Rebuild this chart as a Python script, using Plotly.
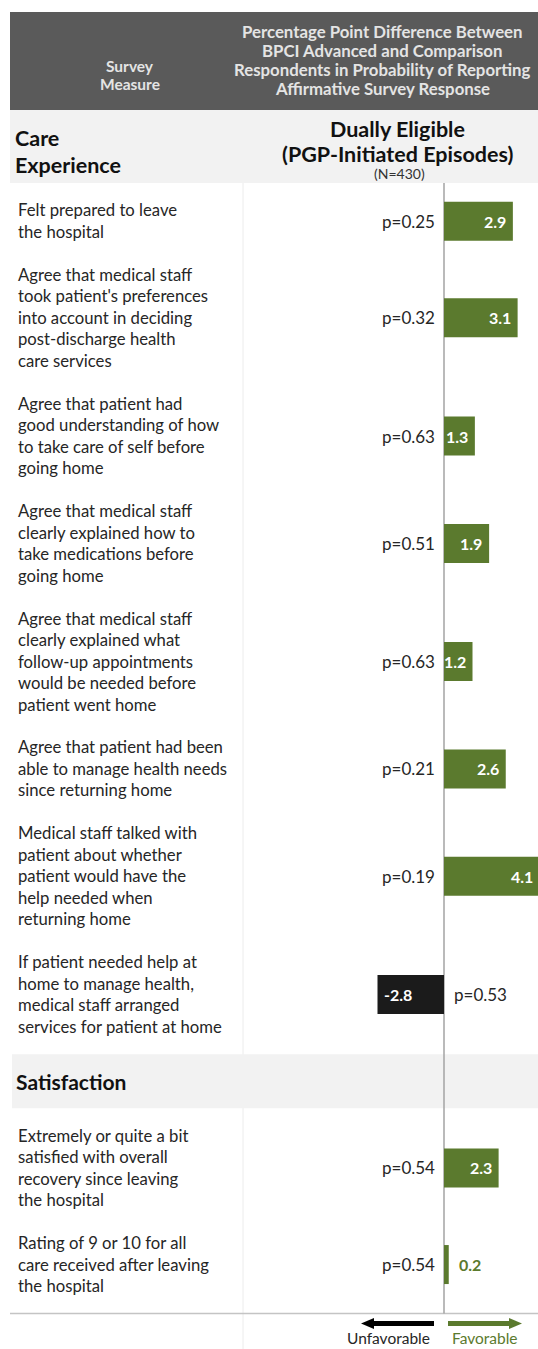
import plotly.graph_objects as go

W, H = 538, 1349

# ---- data -------------------------------------------------------------
measures = [
    "Felt prepared to leave\nthe hospital",
    "Agree that medical staff\ntook patient's preferences\ninto account in deciding\npost-discharge health\ncare services",
    "Agree that patient had\ngood understanding of how\nto take care of self before\ngoing home",
    "Agree that medical staff\nclearly explained how to\ntake medications before\ngoing home",
    "Agree that medical staff\nclearly explained what\nfollow-up appointments\nwould be needed before\npatient went home",
    "Agree that patient had been\nable to manage health needs\nsince returning home",
    "Medical staff talked with\npatient about whether\npatient would have the\nhelp needed when\nreturning home",
    "If patient needed help at\nhome to manage health,\nmedical staff arranged\nservices for patient at home",
    "Extremely or quite a bit\nsatisfied with overall\nrecovery since leaving\nthe hospital",
    "Rating of 9 or 10 for all\ncare received after leaving\nthe hospital",
]
sections = ["Care\nExperience"] * 8 + ["Satisfaction"] * 2
diff_pp = [2.9, 3.1, 1.3, 1.9, 1.2, 2.6, 4.1, -2.8, 2.3, 0.2]
p_values = [0.25, 0.32, 0.63, 0.51, 0.63, 0.21, 0.19, 0.53, 0.54, 0.54]

col_header_left = "Survey\nMeasure"
col_header_right = ("Percentage Point Difference Between\nBPCI Advanced and Comparison\n"
                    "Respondents in Probability of Reporting\nAffirmative Survey Response")
group_title = ["Dually Eligible", "(PGP-Initiated Episodes)"]
group_n = "(N=430)"
direction_labels = ["Unfavorable", "Favorable"]

# ---- styling / layout constants --------------------------------------
FONT = "Lato, 'Open Sans', sans-serif"
GREEN = "#5b7a2e"
BLACK = "#1b1b1b"
TEXT = "#262626"
HEAD_BG = "#5a5a5a"
HEAD_TXT = "#e4e4e4"
BAND_BG = "#f2f2f2"

ZERO_PX = 444          # horizontal pixel of the zero line
PX_PER_PP = 23.75      # pixels per percentage point
X_MIN = -ZERO_PX / PX_PER_PP
X_MAX = (W - ZERO_PX) / PX_PER_PP
LINE_H = 21.5
ROW_GAP = 21.4
BLOCK_PAD = 6
BAND_H = 54
TABLE_LEFT = 10
COL_SPLIT = 243
HEAD_TOP, HEAD_BOT, SUB_BOT = 12, 110, 183
BAR_THICK = 39

# ---- row positions derived from label line counts --------------------
centers = []
section_bands = []
y = SUB_BOT + BLOCK_PAD
current = sections[0]
for m, s in zip(measures, sections):
    if s != current:
        y += BLOCK_PAD
        section_bands.append((s, y, y + BAND_H))
        y += BAND_H + BLOCK_PAD
        current = s
    n = m.count("\n") + 1
    h = n * LINE_H + ROW_GAP
    centers.append(y + h / 2)
    y += h
bottom_rule = y + BLOCK_PAD


def px(x):
    return x / W


annotations = []
shapes = []


def add_lines(text, x, y_pos, spacing, size, color, anchor="left", bold=False, yanchor="middle"):
    lines = text.split("\n")
    n = len(lines)
    for i, line in enumerate(lines):
        yy = y_pos + (i - (n - 1) / 2) * spacing
        annotations.append(dict(
            x=px(x), xref="paper", y=yy, yref="y",
            text=f"<b>{line}</b>" if bold else line,
            showarrow=False, xanchor=anchor, yanchor=yanchor,
            font=dict(family=FONT, size=size, color=color),
        ))


# header bands
shapes.append(dict(type="rect", xref="paper", yref="y", x0=px(TABLE_LEFT), x1=1,
                   y0=HEAD_TOP, y1=HEAD_BOT, fillcolor=HEAD_BG, line_width=0, layer="below"))
shapes.append(dict(type="rect", xref="paper", yref="y", x0=px(TABLE_LEFT), x1=1,
                   y0=HEAD_BOT, y1=SUB_BOT, fillcolor=BAND_BG, line_width=0, layer="below"))

# column divider and zero line
shapes.append(dict(type="line", xref="paper", yref="y", x0=px(COL_SPLIT), x1=px(COL_SPLIT),
                   y0=SUB_BOT, y1=H, line=dict(color="#ececec", width=1), layer="below"))
shapes.append(dict(type="line", xref="x", yref="y", x0=0, x1=0,
                   y0=SUB_BOT, y1=bottom_rule, line=dict(color="#a3a3a3", width=1.5), layer="below"))

# section bands (drawn over the rules)
for title, y0, y1 in section_bands:
    shapes.append(dict(type="rect", xref="paper", yref="y", x0=px(TABLE_LEFT + 2), x1=1,
                       y0=y0, y1=y1, fillcolor=BAND_BG, line_width=0, layer="below"))
    add_lines(title, 14, (y0 + y1) / 2, 24, 21, "#111111", bold=True)

# bottom rule
shapes.append(dict(type="line", xref="paper", yref="y", x0=px(TABLE_LEFT), x1=1,
                   y0=bottom_rule, y1=bottom_rule, line=dict(color="#c4c4c4", width=1.5),
                   layer="below"))

# header text
add_lines(col_header_left, 130, 75, 18, 15.5, HEAD_TXT, anchor="center", bold=True)
add_lines(col_header_right, 382, 59.5, 19, 16.8, HEAD_TXT, anchor="center", bold=True)
add_lines(sections[0], 13, 151, 27, 21.5, "#111111", bold=True)
add_lines("\n".join(group_title), 397, 141.5, 24.5, 21.5, "#111111", anchor="center", bold=True)
add_lines(group_n, 399, 173.5, 14, 14, "#333333", anchor="center")

# row labels, p-values and value labels
for m, d, p, c in zip(measures, diff_pp, p_values, centers):
    add_lines(m, 16, c, LINE_H, 16.7, TEXT)
    annotations.append(dict(x=0, xref="x", y=c, yref="y", text=f"p={p:.2f}",
                            showarrow=False, xanchor="right" if d >= 0 else "left",
                            yanchor="middle", xshift=-7 if d >= 0 else 8,
                            font=dict(family=FONT, size=17, color=TEXT)))
    bar_px = abs(d) * PX_PER_PP
    label = f"<b>{d:.1f}</b>"
    if bar_px >= 26:
        # value sits inside the bar, at its tip (kept inside the visible range)
        tip = min(max(d, X_MIN), X_MAX)
        shift = (-5 if d > 0 else 4) + (2 if tip != d else 0)
        annotations.append(dict(x=tip, xref="x", y=c, yref="y", text=label, showarrow=False,
                                xanchor="right" if d > 0 else "left", yanchor="middle",
                                xshift=shift,
                                font=dict(family=FONT, size=16, color="white")))
    else:
        annotations.append(dict(x=d, xref="x", y=c, yref="y", text=label, showarrow=False,
                                xanchor="left", yanchor="middle", xshift=8,
                                font=dict(family=FONT, size=16, color=GREEN)))

# direction arrows
ARROW_Y = 1323.5
shapes.append(dict(type="line", xref="paper", yref="y", x0=px(372), x1=px(434),
                   y0=ARROW_Y, y1=ARROW_Y, line=dict(color="black", width=5)))
shapes.append(dict(type="path", xref="paper", yref="y",
                   path=f"M {px(361)},{ARROW_Y} L {px(374)},{ARROW_Y - 5.5} L {px(374)},{ARROW_Y + 5.5} Z",
                   fillcolor="black", line_width=0))
shapes.append(dict(type="line", xref="paper", yref="y", x0=px(448), x1=px(510),
                   y0=ARROW_Y, y1=ARROW_Y, line=dict(color=GREEN, width=5)))
shapes.append(dict(type="path", xref="paper", yref="y",
                   path=f"M {px(522)},{ARROW_Y} L {px(509)},{ARROW_Y - 5.5} L {px(509)},{ARROW_Y + 5.5} Z",
                   fillcolor=GREEN, line_width=0))
add_lines(direction_labels[0], 388, H, 14, 15.5, TEXT, anchor="center", yanchor="bottom")
add_lines(direction_labels[1], 485, H, 14, 15.5, GREEN, anchor="center", yanchor="bottom")

fig = go.Figure(go.Bar(
    x=diff_pp, y=centers, orientation="h", width=BAR_THICK,
    marker=dict(color=[GREEN if d > 0 else BLACK for d in diff_pp], line_width=0),
    hoverinfo="skip",
))

fig.update_layout(
    width=W, height=H, margin=dict(l=0, r=0, t=0, b=0),
    paper_bgcolor="white", plot_bgcolor="rgba(0,0,0,0)",
    showlegend=False,
    xaxis=dict(range=[X_MIN, X_MAX], visible=False, fixedrange=True),
    yaxis=dict(range=[H, 0], visible=False, fixedrange=True),
    shapes=shapes, annotations=annotations,
)

fig.write_html("out.html")
